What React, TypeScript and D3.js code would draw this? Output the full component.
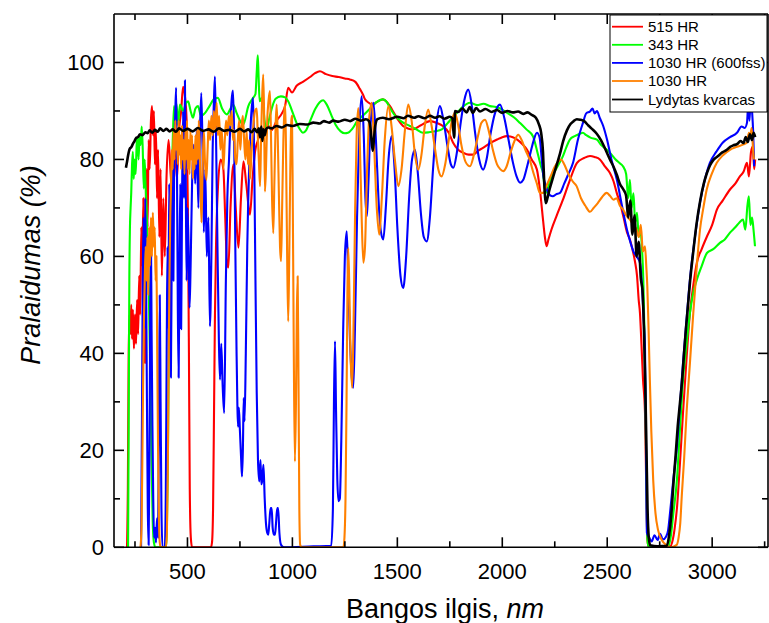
import React from "react";
import * as d3 from "d3";

const W = 769;
const H = 623;
const PLOT = { left: 114, right: 768, top: 14, bottom: 547.3 };

const xDomain = [150, 3266];
const yDomain = [0, 110];
const xMajorTicks = [500, 1000, 1500, 2000, 2500, 3000];
const xMinorTicks = [250, 750, 1250, 1750, 2250, 2750, 3250];
const yMajorTicks = [0, 20, 40, 60, 80, 100];
const yMinorTicks = [10, 30, 50, 70, 90];

const seriesNames = ["515 HR", "343 HR", "1030 HR (600fss)", "1030 HR", "Lydytas kvarcas"];
const seriesColors = ["#ff0000", "#00ff00", "#0000ff", "#ff8000", "#000000"];

// 515 HR : [wavelength nm, transmittance %]
const red515 = [
  [212,0],[216,12],[220,40],[224,48],[228,44],[232,50],[236,43],[240,49],[245,41],[250,48],[255,42],[260,51],[265,44],[270,56],[275,48],[280,66],[285,58],[290,72],[294,45],[297,38],[301,70],[306,78],[310,66],[315,84],[320,78],[326,88],[331,91],[336,85],[340,90],[345,79],[350,86],[355,72],[360,82],[366,64],[372,78],[378,56],[385,72],[392,60],[400,76],[410,84],[420,77],[430,72],[440,82],[450,76],[460,86],[470,90],[479,95],[488,93],[496,88],[502,70],[507,40],[511,12],[516,2],[522,0],[612,0],[617,1],[622,8],[627,30],[631,48],[636,62],[645,74],[658,80],[671,78],[680,68],[688,59],[695,57.7],[705,70],[719,79],[730,70],[743,61.8],[755,72],[767,79.6],[780,75],[798,68.6],[810,76],[822,81.6],[836,84],[850,86.5],[865,85.5],[884,87],[900,86],[925,88],[950,89.5],[965,91],[980,94.8],[998,93.8],[1020,95.2],[1050,96],[1084,97],[1108,97.8],[1131,98.2],[1160,97.6],[1190,97.2],[1220,97.0],[1250,96.7],[1274,96.5],[1300,96.0],[1322,94.5],[1336,93.4],[1346,92.4],[1360,91.8],[1384,91.3],[1400,91.8],[1431,92.4],[1465,91.0],[1485,89.5],[1503,88.2],[1527,86.9],[1550,86.4],[1574,86.2],[1610,87.0],[1655,87.9],[1690,87.5],[1717,86.9],[1745,85.5],[1765,83.5],[1790,82.0],[1813,81.4],[1840,81.0],[1860,81.0],[1885,81.8],[1908,82.4],[1940,83.3],[1975,84.1],[2000,84.6],[2023,84.8],[2050,84.6],[2071,84.1],[2095,83.2],[2118,82.0],[2140,80.0],[2165,77.9],[2180,73.5],[2194,67.6],[2203,64.0],[2211,62.1],[2220,63.5],[2234,65.5],[2260,68.5],[2289,71.7],[2320,75.5],[2356,79.3],[2390,80.3],[2418,80.7],[2440,80.5],[2465,80.0],[2490,78.5],[2513,77.2],[2530,75.5],[2546,73.0],[2561,71.0],[2578,68.0],[2594,65.0],[2608,63.5],[2620,61.5],[2632,59.0],[2642,56.0],[2650,51.0],[2656,48.3],[2663,42.0],[2670,35.0],[2680,27.7],[2686,12.0],[2690,3.0],[2694,0.3],[2800,0.2],[2812,1.5],[2820,3.5],[2832,8.0],[2846,17.0],[2861,27.7],[2878,39.0],[2894,48.3],[2910,54.0],[2927,58.7],[2950,61.5],[2975,64.1],[3000,66.5],[3023,69.7],[3050,71.5],[3085,73.8],[3110,75.0],[3132,76.5],[3150,77.5],[3166,79.3],[3175,76.5],[3185,81.5],[3194,82.7],[3200,78.0],[3205,80.0]
];

// 343 HR
const green343 = [
  [217,0],[220,25],[223,55],[226,66],[229,70],[232,73],[236,79],[240,81.6],[244,76],[248,80],[253,77],[258,83],[262,84.5],[267,80],[272,85],[277,83],[282,86.8],[287,82],[292,74],[296,80],[300,75],[305,70],[310,62],[316,52],[322,38],[328,20],[334,6],[340,1],[347,0],[398,0],[402,4],[406,15],[410,35],[414,50],[418,60],[422,69.7],[426,78],[430,84],[436,91],[441,88],[448,91.5],[455,87],[464,91.3],[480,90],[492,91.5],[503,92],[515,90],[526,88.6],[538,90.5],[550,91],[565,89],[584,89.6],[605,91],[625,92.4],[645,92.7],[665,90.5],[688,89.3],[705,90.5],[717,91.3],[735,89.5],[750,88],[766,87.2],[790,91],[813,92.7],[824,93.5],[830,98],[835,101.5],[839,97],[844,92],[855,92.7],[863,90],[869,87.5],[878,86.5],[890,88.5],[905,91],[920,92.5],[945,93],[965,92.8],[980,92],[1000,89.8],[1020,87.5],[1036,86.2],[1050,85.5],[1065,86],[1085,88],[1110,90.5],[1130,91.8],[1146,92.2],[1165,91.2],[1185,89.2],[1205,87.2],[1230,85.8],[1250,85.4],[1265,85.5],[1285,86.3],[1310,88],[1340,89.2],[1370,90.5],[1400,91.8],[1431,92.4],[1450,91.8],[1465,90.6],[1490,89],[1520,87.8],[1560,86.9],[1590,86.2],[1622,85.5],[1650,85.6],[1680,85.8],[1712,86.2],[1740,87.5],[1760,88.5],[1784,89.6],[1810,90.8],[1846,91.7],[1880,91.2],[1910,91.5],[1942,91.0],[1970,90.8],[1990,90.5],[2023,89.6],[2055,88.7],[2085,87.5],[2115,86.2],[2146,84.8],[2170,81.0],[2185,78.5],[2194,77.2],[2201,74.5],[2208,73.1],[2220,74.5],[2235,76.5],[2256,78.0],[2275,79.5],[2289,80.7],[2305,82.5],[2322,84.1],[2345,84.8],[2370,85.3],[2384,85.5],[2400,85.0],[2420,84.5],[2451,84.1],[2470,83.0],[2490,82.3],[2513,81.4],[2540,80.0],[2560,79.2],[2575,78.6],[2590,77.0],[2600,72.0],[2608,75.8],[2616,70.0],[2625,73.0],[2633,67.0],[2642,69.0],[2650,64.0],[2658,65.5],[2665,62.1],[2672,55.0],[2677,45.0],[2681,34.0],[2686,15.0],[2690,3.0],[2694,0.3],[2790,0.2],[2802,2.0],[2815,7.0],[2832,13.9],[2846,24.0],[2861,34.6],[2878,42.0],[2894,48.3],[2910,52.5],[2927,55.2],[2950,58.0],[2975,60.7],[3005,61.5],[3037,62.8],[3060,63.5],[3085,64.9],[3110,66.0],[3130,67.0],[3147,67.6],[3158,65.5],[3168,70.5],[3175,72.4],[3182,66.5],[3190,68.0],[3197,65.5],[3204,62.1]
];

// 1030 HR (600fss)
const blue1030fs = [
  [279,0],[283,25],[287,55],[291,68],[295,45],[299,72],[303,55],[307,30],[311,8],[315,0.5],[319,20],[323,50],[326,64],[329,45],[333,25],[337,10],[341,2],[346,4],[350,1],[355,6],[360,2],[364,25],[368,52],[372,30],[376,8],[381,0],[392,0],[397,12],[401,40],[405,62],[409,45],[413,75],[417,58],[421,35],[425,60],[429,78],[433,55],[437,82],[441,88],[446,94.8],[450,78],[454,50],[458,35],[462,58],[466,75],[470,45],[474,70],[479,90],[484,72],[488,96.3],[492,75],[496,55],[500,70],[505,62],[510,49.4],[515,58],[522,75],[530,83],[537,75],[544,86],[552,70],[559,85],[566,93.7],[572,82],[578,65],[585,78],[592,60],[600,68],[607,45.6],[614,60],[620,82],[626,92],[631,97.1],[637,82],[643,62],[650,42],[655,34.6],[661,42],[668,33],[675,27.7],[683,55],[690,72],[698,80],[706,89],[712,93],[717,94.2],[722,86],[728,62],[734,40],[738,29],[741,24.9],[745,28.8],[750,24],[756,18],[760,14.6],[764,20],[768,30.8],[772,26],[778,40],[785,62],[795,80],[805,90],[813,92.7],[818,80],[824,55],[830,32],[836,18],[842,13.6],[848,18],[852,13],[857,14],[862,17],[868,10],[874,5],[880,3],[885,2.6],[890,5],[896,8.1],[901,8.1],[906,4],[912,2.6],[917,2.6],[922,5],[928,8.1],[932,8.1],[938,3],[946,0.5],[960,0],[1100,0.2],[1185,0.3],[1193,8],[1198,30],[1203,42.5],[1208,28],[1214,14],[1220,9.5],[1226,10],[1233,22],[1242,45],[1250,60],[1259,65.2],[1266,55],[1275,42],[1283,35],[1290,32.9],[1298,45],[1308,68],[1318,85],[1330,93],[1340,85],[1348,72],[1355,68.3],[1362,75],[1372,87],[1386,91.7],[1398,84],[1410,72],[1422,65],[1433,63.5],[1445,70],[1458,80],[1473,84.8],[1487,78],[1500,66],[1515,56],[1528,53.5],[1542,60],[1556,72],[1570,80],[1584,82],[1598,77],[1612,69],[1626,64],[1640,63.1],[1655,68],[1670,78],[1686,87],[1703,91],[1720,88],[1738,83],[1755,79],[1767,78.3],[1782,81],[1800,87],[1818,92],[1838,94.4],[1855,91],[1872,85],[1890,80],[1909,77.9],[1925,80],[1945,85.5],[1965,89.5],[1989,91.3],[2010,88.5],[2030,84],[2050,79.5],[2068,76.5],[2085,75.2],[2100,75.8],[2118,78.5],[2135,81.5],[2150,84],[2165,85.5],[2178,84.5],[2188,80],[2196,76.5],[2203,75.2],[2215,73.5],[2228,72.6],[2241,72.4],[2256,72.8],[2275,73.1],[2295,75],[2315,77],[2337,79.3],[2360,84],[2384,87.5],[2400,89.5],[2418,89.9],[2430,90.5],[2440,89.5],[2451,90],[2465,88.5],[2480,87],[2499,84.1],[2520,80],[2546,75.8],[2570,70.5],[2594,65.5],[2610,63],[2625,61],[2640,60],[2656,58.7],[2668,52],[2675,46],[2680,41],[2685,20],[2689,3],[2700,2],[2712,1.2],[2725,2.5],[2740,1.5],[2752,2.8],[2765,1.6],[2780,2.2],[2790,3.5],[2799,7],[2815,14],[2832,20.8],[2846,29],[2861,38],[2878,47],[2894,55.2],[2918,64],[2942,71.1],[2965,75.8],[2989,79.3],[3020,81.6],[3051,83.5],[3085,84.6],[3118,85.5],[3140,86.8],[3155,86.5],[3166,87.6],[3172,91.5],[3178,88],[3184,93.5],[3190,90],[3195,86],[3200,78.6]
];

// 1030 HR
const orange1030 = [
  [276,0],[281,4],[285,18],[289,35],[293,48],[297,56],[301,62],[305,55],[309,64],[313,52],[317,66],[321,58],[326,68],[331,60],[335,69],[340,62],[344,66],[348,55],[352,60],[356,40],[360,20],[364,6],[368,1],[372,0],[398,0],[402,3],[406,15],[410,35],[414,55],[418,68],[422,75],[426,82],[430,78],[434,86],[438,80],[442,88],[446,82],[450,86],[454,79],[458,88],[462,81],[466,85],[470,78],[474,87],[478,80],[482,84],[486,77],[490,86],[494,80],[498,88],[502,78],[506,84],[510,77],[514,86],[518,80],[522,85],[526,76],[530,82],[534,78],[538,85],[542,79],[546,86],[550,80],[554,88],[558,82],[562,75],[567,67],[572,78],[578,86],[583,80],[590,75.8],[596,82],[602,88],[608,84],[614,89],[620,85],[626,90],[632,86],[639,91.7],[645,85],[651,89],[657,82],[664,86],[671,78],[678,84],[684,88],[690,85],[697,89],[704,87],[711,90],[717,84],[722,86],[728,80],[734,79],[740,84],[746,88],[752,82],[758,87],[764,89],[770,84],[776,80],[782,86],[788,79],[794,84],[798,76],[806,82],[814,87],[822,90],[830,90.5],[835,85],[840,80],[846,74.5],[851,85],[856,93],[861,97.5],[865,90],[869,73.4],[874,78],[880,88],[886,92],[893,94.1],[898,85],[903,72],[909,64.8],[914,75],[920,87],[925,91.3],[930,85],[936,72],[941,62],[946,59],[951,70],[957,84],[962,90],[966,91.3],[970,80],[975,60],[980,46.6],[985,60],[990,78],[995,88],[998,89],[1002,70],[1007,38],[1012,17.7],[1017,30],[1021,48],[1025,55.9],[1029,35],[1033,8],[1037,0.5],[1045,0],[1243,0],[1248,2],[1253,10],[1258,30],[1262,52],[1266,61.7],[1271,54],[1277,40],[1285,32.9],[1292,48],[1299,70],[1306,85],[1314,90.6],[1322,82],[1330,68],[1338,58.7],[1346,62],[1354,75],[1365,88],[1378,91.7],[1390,82],[1402,70],[1414,64.5],[1426,72],[1440,84],[1457,91],[1472,87],[1488,80],[1505,74.5],[1520,78],[1536,86],[1552,91.3],[1568,88],[1584,81],[1600,77.9],[1615,81],[1631,87],[1647,90.3],[1663,87],[1680,82],[1695,78],[1711,76.5],[1728,79],[1745,84],[1760,88],[1774,89.6],[1790,87],[1805,83],[1825,79.5],[1846,78.6],[1865,81],[1885,85],[1900,87.5],[1918,88.2],[1935,86],[1955,82],[1975,79],[1990,78],[2005,77.6],[2020,78.5],[2040,81.5],[2060,84],[2076,85.1],[2092,84],[2110,82],[2130,80],[2150,77],[2165,75],[2179,73.1],[2195,73.1],[2210,74.5],[2230,76.5],[2250,78.5],[2265,79.5],[2280,80],[2295,79],[2315,77],[2335,75.5],[2354,74.5],[2375,72],[2395,70.5],[2418,69.2],[2435,70],[2455,71],[2475,72.2],[2497,73.1],[2513,72.5],[2530,71.7],[2545,72],[2560,70.5],[2575,69.7],[2590,68.5],[2608,67.6],[2625,66.5],[2640,65.5],[2650,64],[2660,66.5],[2670,61],[2680,62.1],[2686,58],[2691,53.8],[2697,45],[2703,34.6],[2710,24],[2719,13.9],[2730,7],[2742,3.6],[2760,1.5],[2780,0.5],[2799,0],[2831,0.5],[2840,2],[2848,5],[2855,10.5],[2866,18],[2878,27.7],[2894,38],[2910,48.3],[2925,57],[2942,65.5],[2958,70],[2974,73.8],[2998,77],[3022,79.3],[3050,80.8],[3085,82],[3118,82.6],[3149,83.1],[3165,83.5],[3175,85.5],[3180,84.5],[3188,86.5],[3195,82],[3199,80]
];

// Lydytas kvarcas
const blackQuartz = [
  [207,78.3],[212,79.5],[218,81.0],[225,82.2],[232,82.5],[240,83.2],[248,83.8],[255,84.4],[264,84.6],[274,85.2],[285,85.0],[300,85.6],[310,85.4],[320,86.0],[332,85.5],[345,86.1],[358,85.7],[370,86.4],[385,85.9],[400,86.3],[415,85.8],[430,86.2],[445,85.7],[460,86.4],[480,85.9],[500,86.3],[525,85.8],[550,86.5],[575,85.9],[600,86.2],[625,85.7],[650,86.4],[675,85.9],[700,86.1],[725,85.7],[750,86.3],[770,85.8],[790,86.2],[805,85.6],[820,86.3],[832,85.6],[840,86.4],[846,84.6],[852,86.8],[857,83.8],[862,86.2],[868,85.0],[875,86.3],[885,86.6],[900,86.4],[925,86.9],[950,86.6],[975,87.1],[1000,86.9],[1036,87.3],[1070,87.2],[1100,87.6],[1130,87.4],[1150,87.9],[1175,87.6],[1194,88.0],[1220,87.8],[1250,88.2],[1275,87.9],[1300,88.4],[1325,88.0],[1350,88.3],[1365,87.9],[1372,86.5],[1378,83.5],[1383,81.8],[1388,84.0],[1395,87.0],[1405,88.3],[1431,88.6],[1460,88.3],[1500,88.8],[1530,88.5],[1550,89.0],[1580,88.6],[1600,88.9],[1630,88.5],[1656,89.0],[1680,88.6],[1700,88.9],[1725,88.4],[1750,88.8],[1762,88.5],[1767,86.0],[1771,84.5],[1775,90.0],[1790,89.8],[1810,90.5],[1830,89.7],[1845,90.8],[1860,89.6],[1875,90.6],[1894,89.9],[1920,90.4],[1950,89.8],[1975,90.2],[2000,89.6],[2025,90.0],[2050,89.7],[2075,89.9],[2100,89.4],[2120,89.7],[2140,89.2],[2160,88.6],[2175,87.2],[2185,85.5],[2194,81.5],[2200,75.0],[2208,71.0],[2215,72.0],[2225,73.8],[2243,76.5],[2260,79.0],[2275,81.2],[2290,83.8],[2308,86.0],[2325,87.3],[2340,87.9],[2355,88.3],[2371,88.2],[2390,87.9],[2410,87.0],[2430,86.2],[2450,85.3],[2470,84.0],[2490,82.2],[2514,79.9],[2530,78.5],[2546,76.8],[2560,75.0],[2577,73.8],[2590,72.5],[2600,68.0],[2610,71.5],[2620,64.5],[2630,68.5],[2640,60.0],[2650,63.0],[2660,55.5],[2668,53.0],[2675,45.0],[2681,34.0],[2687,20.0],[2692,8.0],[2698,2.0],[2705,0.4],[2740,0.2],[2784,0.3],[2795,2.5],[2805,6.5],[2816,13.5],[2826,19.0],[2836,25.0],[2846,29.5],[2856,34.0],[2866,40.0],[2875,45.0],[2885,50.0],[2895,55.0],[2910,61.0],[2925,66.5],[2943,71.5],[2960,75.0],[2975,77.2],[2990,78.8],[3006,79.9],[3025,80.6],[3050,81.5],[3070,82.0],[3086,82.6],[3100,82.9],[3120,83.2],[3135,83.8],[3149,83.4],[3160,84.6],[3170,83.6],[3180,85.2],[3190,84.0],[3197,85.5],[3205,84.6]
];

const allSeries = [red515, green343, blue1030fs, orange1030, blackQuartz];

const FONT = "'Liberation Sans', Arial, Helvetica, sans-serif";

export default function App() {
  const x = d3.scaleLinear().domain(xDomain).range([PLOT.left, PLOT.right]);
  const y = d3.scaleLinear().domain(yDomain).range([PLOT.bottom, PLOT.top]);
  const line = d3
    .line<number[]>()
    .x((d) => x(d[0]))
    .y((d) => y(d[1]))
    .curve(d3.curveMonotoneX);

  const majorLen = 10;
  const minorLen = 6;
  const legendRows = [26.7, 44.8, 62.9, 81.0, 99.5];

  return (
    <svg
      width={W}
      height={H}
      viewBox={`0 0 ${W} ${H}`}
      style={{ position: "absolute", left: 0, top: 0, background: "#fff" }}
      fontFamily={FONT}
    >
      <defs>
        <clipPath id="plotClip">
          <rect x={PLOT.left} y={PLOT.top} width={PLOT.right - PLOT.left} height={PLOT.bottom - PLOT.top} />
        </clipPath>
      </defs>
      <rect x={0} y={0} width={W} height={H} fill="#fff" />

      <g clipPath="url(#plotClip)">
        {allSeries.map((s, i) => (
          <path
            key={i}
            d={line(s as number[][]) || ""}
            fill="none"
            stroke={seriesColors[i]}
            strokeWidth={i === 4 ? 2.6 : 2.1}
            strokeLinejoin="round"
          />
        ))}
      </g>

      {/* axes frame */}
      <g stroke="#000" strokeWidth={1.6} fill="none">
        <line x1={PLOT.left} x2={PLOT.right} y1={PLOT.bottom} y2={PLOT.bottom} />
        <line x1={PLOT.left} x2={PLOT.right} y1={PLOT.top} y2={PLOT.top} />
        <line x1={PLOT.left} x2={PLOT.left} y1={PLOT.top} y2={PLOT.bottom} />
        <line x1={PLOT.right} x2={PLOT.right} y1={PLOT.top} y2={PLOT.bottom} />
      </g>

      {/* ticks */}
      <g stroke="#000" strokeWidth={1.6}>
        {xMajorTicks.map((t) => (
          <g key={"xm" + t}>
            <line x1={x(t)} x2={x(t)} y1={PLOT.bottom} y2={PLOT.bottom - majorLen} />
            <line x1={x(t)} x2={x(t)} y1={PLOT.top} y2={PLOT.top + majorLen} />
          </g>
        ))}
        {xMinorTicks.map((t) => (
          <g key={"xn" + t}>
            <line x1={x(t)} x2={x(t)} y1={PLOT.bottom} y2={PLOT.bottom - minorLen} />
            <line x1={x(t)} x2={x(t)} y1={PLOT.top} y2={PLOT.top + minorLen} />
          </g>
        ))}
        {yMajorTicks.map((t) => (
          <g key={"ym" + t}>
            <line x1={PLOT.left} x2={PLOT.left + majorLen} y1={y(t)} y2={y(t)} />
            <line x1={PLOT.right} x2={PLOT.right - majorLen} y1={y(t)} y2={y(t)} />
          </g>
        ))}
        {yMinorTicks.map((t) => (
          <g key={"yn" + t}>
            <line x1={PLOT.left} x2={PLOT.left + minorLen} y1={y(t)} y2={y(t)} />
            <line x1={PLOT.right} x2={PLOT.right - minorLen} y1={y(t)} y2={y(t)} />
          </g>
        ))}
      </g>

      {/* tick labels */}
      <g fontSize={22} fill="#000">
        {xMajorTicks.map((t) => (
          <text key={"xl" + t} x={x(t)} y={579} textAnchor="middle">
            {t}
          </text>
        ))}
        {yMajorTicks.map((t) => (
          <text key={"yl" + t} x={104} y={y(t)} dy="0.36em" textAnchor="end">
            {t}
          </text>
        ))}
      </g>

      {/* axis titles */}
      <text x={445} y={618} fontSize={27} textAnchor="middle" fill="#000">
        Bangos ilgis, <tspan fontStyle="italic">nm</tspan>
      </text>
      <text
        transform="translate(40,265) rotate(-90)"
        fontSize={27}
        fontStyle="italic"
        textAnchor="middle"
        fill="#000"
      >
        Pralaidumas (%)
      </text>

      {/* legend */}
      <g>
        <rect x={610} y={15} width={157} height={97} fill="#fff" stroke="#000" strokeWidth={1} />
        {seriesNames.map((n, i) => (
          <g key={n}>
            <line x1={612} x2={643} y1={legendRows[i]} y2={legendRows[i]} stroke={seriesColors[i]} strokeWidth={1.8} />
            <text x={648} y={legendRows[i]} dy="0.35em" fontSize={15} fill="#000">
              {n}
            </text>
          </g>
        ))}
      </g>
    </svg>
  );
}
